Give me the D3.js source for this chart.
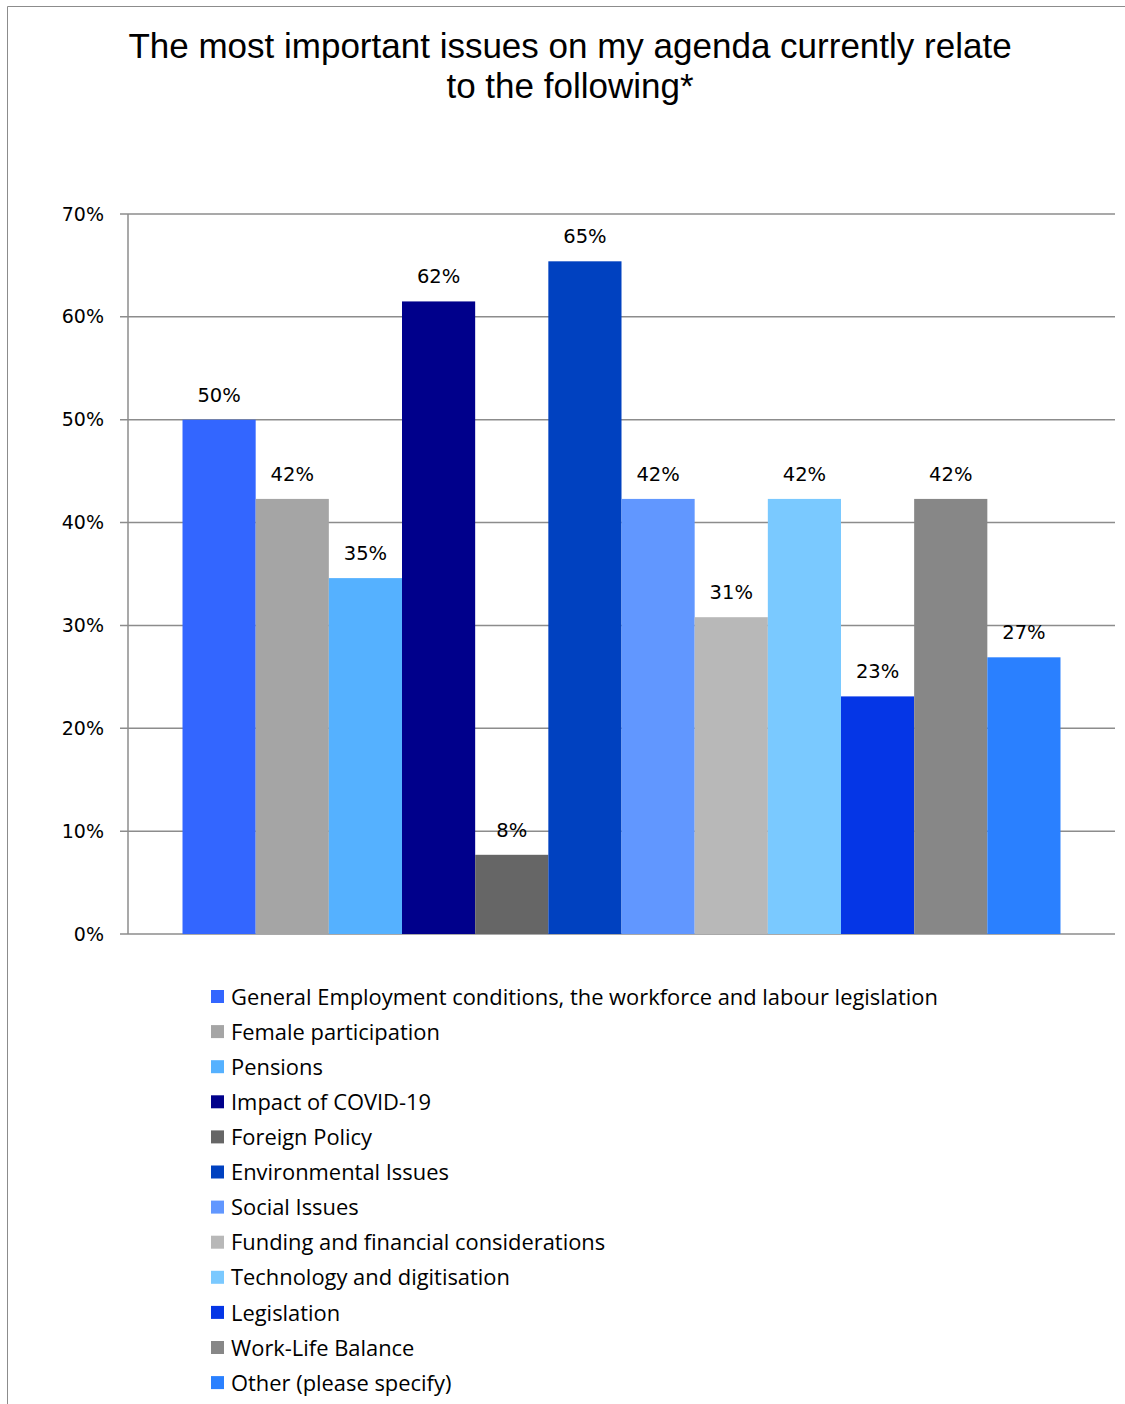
<!DOCTYPE html>
<html>
<head>
<meta charset="utf-8">
<script src="https://cdn.jsdelivr.net/npm/d3@7"></script>
<style>
  html, body { margin: 0; padding: 0; background: #fff; }
  svg { display: block; }
</style>
</head>
<body>
<svg id="chart" width="1125" height="1404"></svg>
<script>
const titleLines = ["The most important issues on my agenda currently relate", "to the following*"];
const categories = [
  "General Employment conditions, the workforce and labour legislation",
  "Female participation",
  "Pensions",
  "Impact of COVID-19",
  "Foreign Policy",
  "Environmental Issues",
  "Social Issues",
  "Funding and financial considerations",
  "Technology and digitisation",
  "Legislation",
  "Work-Life Balance",
  "Other (please specify)"
];
const values = [50.0, 42.3, 34.6, 61.5, 7.7, 65.4, 42.3, 30.8, 42.3, 23.1, 42.3, 26.9];
const colors = ["#3366FF", "#A5A5A5", "#55B1FF", "#00008B", "#666666", "#0041C0", "#6197FF", "#B8B8B8", "#7AC9FF", "#0536E6", "#878787", "#2A80FF"];
const yTicks = [0, 10, 20, 30, 40, 50, 60, 70];

const svg = d3.select("#chart");
const W = 1125, H = 1404;
const plot = { left: 128, right: 1115, top: 214, bottom: 934 };

// outer frame
svg.append("path")
  .attr("d", `M7.5,${H} L7.5,6.5 L${W},6.5`)
  .attr("fill", "none").attr("stroke", "#8c8c8c").attr("stroke-width", 1);

// title
svg.append("text")
  .attr("x", 570).attr("y", 58)
  .attr("text-anchor", "middle")
  .style("font-family", "'Liberation Sans', Arial, sans-serif")
  .style("font-size", "35px").attr("fill", "#000")
  .selectAll("tspan").data(titleLines).join("tspan")
  .attr("x", 570).attr("dy", (d, i) => i === 0 ? 0 : 40)
  .text(d => d);

const y = d3.scaleLinear().domain([0, 70]).range([plot.bottom, plot.top]);
const x = d3.scaleBand().domain(categories).range([plot.left, plot.right]).paddingOuter(0.745).paddingInner(0);

// gridlines
svg.append("g").selectAll("line").data(yTicks).join("line")
  .attr("x1", plot.left - 8).attr("x2", plot.right)
  .attr("y1", d => y(d)).attr("y2", d => y(d))
  .attr("stroke", "#8c8c8c").attr("stroke-width", 1.5);

// y axis line
svg.append("line")
  .attr("x1", plot.left).attr("x2", plot.left)
  .attr("y1", plot.top).attr("y2", plot.bottom)
  .attr("stroke", "#8c8c8c").attr("stroke-width", 1.5);

// y tick labels
const yAxis = d3.axisLeft(y).tickValues(yTicks).tickFormat(d => d + "%").tickSize(0).tickPadding(24);
const ga = svg.append("g").attr("transform", `translate(${plot.left},0)`).call(yAxis);
ga.select(".domain").remove();
ga.selectAll("text")
  .style("font-family", "'DejaVu Sans', sans-serif")
  .style("font-size", "19px").attr("fill", "#000");

// bars
svg.append("g").selectAll("rect").data(categories).join("rect")
  .attr("x", d => x(d)).attr("width", x.bandwidth())
  .attr("y", (d, i) => y(values[i]))
  .attr("height", (d, i) => plot.bottom - y(values[i]))
  .attr("fill", (d, i) => colors[i]);

// data labels
svg.append("g").selectAll("text").data(categories).join("text")
  .attr("x", d => x(d) + x.bandwidth() / 2)
  .attr("y", (d, i) => y(values[i]) - 18)
  .attr("text-anchor", "middle")
  .style("font-family", "'DejaVu Sans', sans-serif")
  .style("font-size", "19.5px").attr("fill", "#000")
  .text((d, i) => Math.round(values[i]) + "%");

// legend
const lg = svg.append("g").attr("transform", "translate(211,997)");
const items = lg.selectAll("g").data(categories).join("g")
  .attr("transform", (d, i) => `translate(0,${i * 35.1})`);
items.append("rect").attr("x", 0).attr("y", -7).attr("width", 13).attr("height", 13)
  .attr("fill", (d, i) => colors[i]);
items.append("text").attr("x", 20).attr("y", 0).attr("dy", "0.35em")
  .style("font-family", "'Open Sans', sans-serif")
  .style("font-size", "21.9px").attr("fill", "#000")
  .text(d => d);
</script>
</body>
</html>
